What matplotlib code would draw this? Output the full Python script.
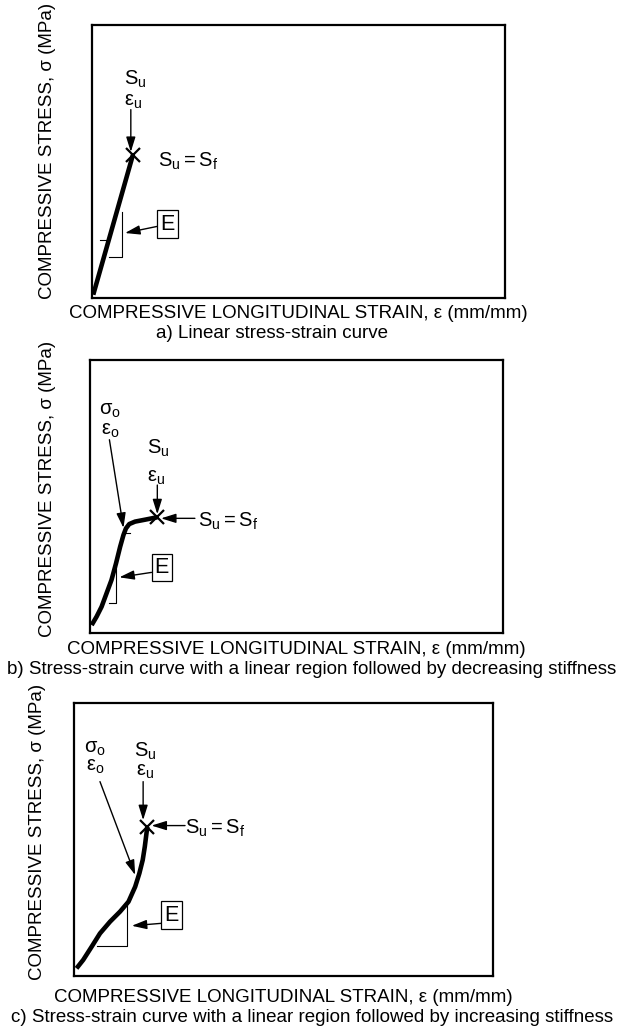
import matplotlib
matplotlib.use("Agg")
import matplotlib.pyplot as plt

plt.rcParams['font.family'] = ['Liberation Sans', 'DejaVu Sans']
plt.rcParams['mathtext.fontset'] = 'custom'
plt.rcParams['mathtext.rm'] = 'Liberation Sans'
plt.rcParams['mathtext.it'] = 'Liberation Sans'
plt.rcParams['mathtext.bf'] = 'Liberation Sans:bold'

# ---- data (normalised strain / stress, axes 0..1) ----
a_strain = [0.003, 0.099]
a_stress = [0.012, 0.524]

b_strain = [0.004, 0.016, 0.028, 0.040, 0.052, 0.063, 0.073, 0.081, 0.087, 0.095, 0.109, 0.133, 0.163]
b_stress = [0.029, 0.060, 0.096, 0.145, 0.194, 0.255, 0.316, 0.359, 0.383, 0.399, 0.408, 0.415, 0.424]

c_strain = [0.006, 0.022, 0.042, 0.062, 0.086, 0.110, 0.130, 0.146, 0.156, 0.164, 0.169, 0.173, 0.175]
c_stress = [0.028, 0.059, 0.107, 0.156, 0.199, 0.236, 0.272, 0.327, 0.376, 0.425, 0.474, 0.523, 0.547]

xlabel_text = "COMPRESSIVE LONGITUDINAL STRAIN, \u03b5 (mm/mm)"
ylabel_text = "COMPRESSIVE STRESS, \u03c3 (MPa)"
captions = ["a) Linear stress-strain curve",
            "b) Stress-strain curve with a linear region followed by decreasing stiffness",
            "c) Stress-strain curve with a linear region followed by increasing stiffness"]

FW, FH = 621, 1034
fig = plt.figure(figsize=(FW / 100, FH / 100), dpi=100)

LBL = 13.5
ANN = 14.5


def make_ax(x0, ytop, w, h):
    ax = fig.add_axes([x0 / FW, 1 - (ytop + h) / FH, w / FW, h / FH])
    ax.set_xlim(0, 1)
    ax.set_ylim(0, 1)
    ax.set_xticks([])
    ax.set_yticks([])
    for s in ax.spines.values():
        s.set_linewidth(1.6)
    return ax


def arrow(ax, tail, tip):
    ax.annotate('', xy=tip, xytext=tail,
                arrowprops=dict(arrowstyle='-|>,head_length=0.9,head_width=0.28',
                                lw=1.0, color='k', shrinkA=0, shrinkB=0,
                                mutation_scale=10))


def ebox(ax, xy):
    ax.text(xy[0], xy[1], 'E', fontsize=ANN + 1, ha='center', va='center',
            bbox=dict(boxstyle='square,pad=0.15', fc='white', ec='k', lw=0.9))


def thin(ax, xs, ys):
    ax.plot(xs, ys, color='k', lw=0.8)


def lab(ax, x, y, s, ha='center'):
    ax.text(x, y, s, fontsize=ANN, ha=ha, va='center')


CURVE = dict(color='k', lw=3.3, solid_capstyle='butt', solid_joinstyle='round')
XM = dict(marker='x', color='k', ms=10, mew=1.6, ls='none')

# ---------------- panel a ----------------
ax = make_ax(92, 25, 413, 273)
ax.plot(a_strain, a_stress, **CURVE)
ax.plot(a_strain[-1], a_stress[-1], **XM)
lab(ax, 0.104, 0.80, r'$\mathregular{S_u}$')
lab(ax, 0.099, 0.72, r'$\mathregular{\varepsilon_u}$')
arrow(ax, (0.094, 0.69), (0.094, 0.535))
lab(ax, 0.160, 0.50, r'$\mathregular{S_u = S_f}$', ha='left')
thin(ax, [0.041, 0.073, 0.073], [0.150, 0.150, 0.315])
thin(ax, [0.019, 0.039], [0.212, 0.212])
arrow(ax, (0.157, 0.262), (0.080, 0.238))
ebox(ax, (0.183, 0.271))

# ---------------- panel b ----------------
ax = make_ax(90, 360, 413, 273)
ax.plot(b_strain, b_stress, **CURVE)
ax.plot(b_strain[-1], b_stress[-1], **XM)
lab(ax, 0.048, 0.815, r'$\mathregular{\sigma_o}$')
lab(ax, 0.048, 0.742, r'$\mathregular{\varepsilon_o}$')
arrow(ax, (0.047, 0.708), (0.081, 0.385))
lab(ax, 0.165, 0.677, r'$\mathregular{S_u}$')
lab(ax, 0.161, 0.57, r'$\mathregular{\varepsilon_u}$')
arrow(ax, (0.163, 0.542), (0.163, 0.435))
lab(ax, 0.262, 0.408, r'$\mathregular{S_u = S_f}$', ha='left')
arrow(ax, (0.254, 0.420), (0.172, 0.420))
thin(ax, [0.085, 0.097], [0.365, 0.365])
thin(ax, [0.047, 0.063, 0.063], [0.109, 0.109, 0.243])
arrow(ax, (0.149, 0.222), (0.071, 0.204))
ebox(ax, (0.174, 0.239))

# ---------------- panel c ----------------
ax = make_ax(74, 703, 419, 273)
ax.plot(c_strain, c_stress, **CURVE)
ax.plot(c_strain[-1], c_stress[-1], **XM)
lab(ax, 0.050, 0.835, r'$\mathregular{\sigma_o}$')
lab(ax, 0.050, 0.768, r'$\mathregular{\varepsilon_o}$')
arrow(ax, (0.062, 0.712), (0.146, 0.370))
lab(ax, 0.169, 0.822, r'$\mathregular{S_u}$')
lab(ax, 0.169, 0.748, r'$\mathregular{\varepsilon_u}$')
arrow(ax, (0.165, 0.712), (0.165, 0.571))
lab(ax, 0.265, 0.541, r'$\mathregular{S_u = S_f}$', ha='left')
arrow(ax, (0.265, 0.551), (0.185, 0.551))
thin(ax, [0.054, 0.126, 0.126], [0.110, 0.110, 0.267])
arrow(ax, (0.209, 0.193), (0.138, 0.184))
ebox(ax, (0.233, 0.223))

# ---------------- figure-level labels ----------------
def ftxt(x, y, s, **kw):
    fig.text(x / FW, 1 - y / FH, s, fontsize=LBL, ha='center', va='center', **kw)

ftxt(298, 313, xlabel_text)
ftxt(272, 333, captions[0])
ftxt(48, 151, ylabel_text, rotation=90)

ftxt(296, 650, xlabel_text)
ftxt(312, 670, captions[1])
ftxt(48, 489, ylabel_text, rotation=90)

ftxt(283, 997, xlabel_text)
ftxt(312, 1017, captions[2])
ftxt(38, 832, ylabel_text, rotation=90)

fig.savefig('out.png', dpi=100)
